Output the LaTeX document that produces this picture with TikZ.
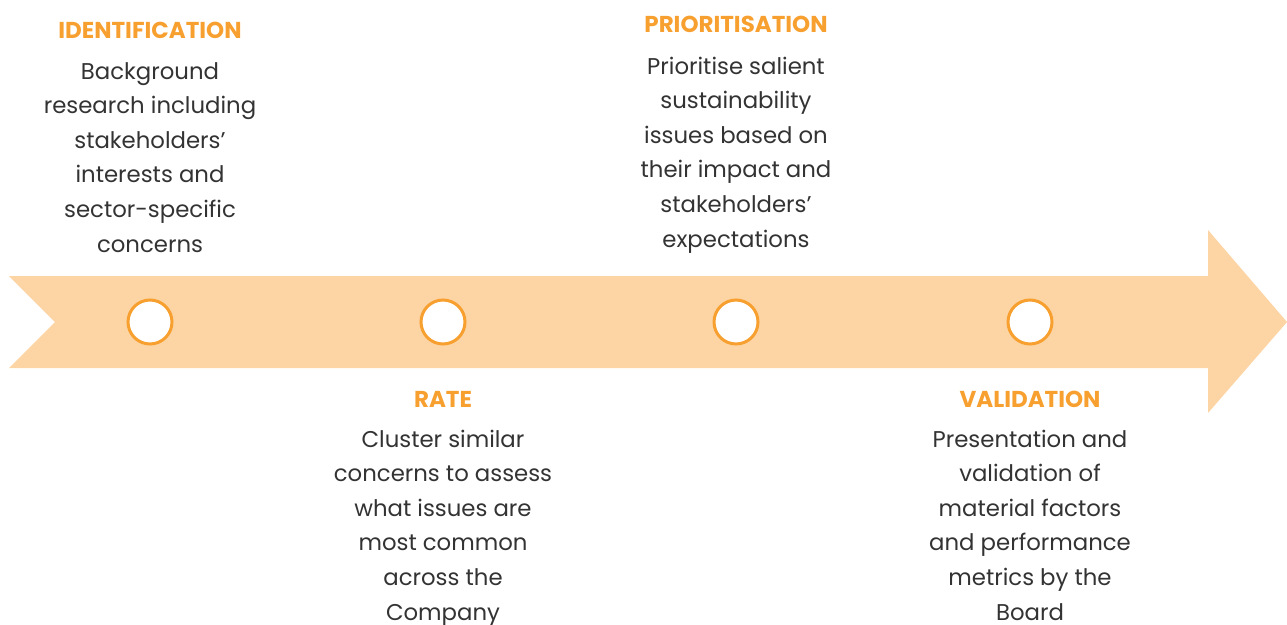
\documentclass[tikz,border=0pt]{standalone}
\usepackage{fontspec}
\setmainfont{Poppins}
\definecolor{band}{HTML}{FDD5A5}
\definecolor{accent}{HTML}{F7A030}
\definecolor{ink}{HTML}{333333}
\begin{document}
\begin{tikzpicture}[x=1pt,y=-1pt,
  title/.style={text=accent, font=\fontsize{23}{25}\selectfont\bfseries, anchor=base},
  body/.style={text=ink, font=\fontsize{22.8}{34.6}\selectfont, align=center, anchor=base},
  dot/.style={circle, draw=accent, line width=3pt, fill=white, minimum size=44pt, inner sep=0pt}]
\useasboundingbox (0,0) rectangle (1287,624);
\fill[band] (9,276) -- (1208,276) -- (1208,230) -- (1287,322) -- (1208,413) -- (1208,368) -- (9,368) -- (55,322) -- cycle;
\node[dot] (c1) at (150,322) {};
\node[dot] (c2) at (443,322) {};
\node[dot] (c3) at (736,322) {};
\node[dot] (c4) at (1030,322) {};
\node[title] (t1) at (150,38) {IDENTIFICATION};
\node[body] (b1) at (150,252) {Background\\research including\\stakeholders\char"0027\\interests and\\sector-specific\\concerns};
\node[title] (t3) at (736,32) {PRIORITISATION};
\node[body] (b3) at (736,247) {Prioritise salient\\sustainability\\issues based on\\their impact and\\stakeholders’\\expectations};
\node[title] (t2) at (443,407) {RATE};
\node[body] (b2) at (443,620) {Cluster similar\\concerns to assess\\what issues are\\most common\\across the\\Company};
\node[title] (t4) at (1030,407) {VALIDATION};
\node[body] (b4) at (1030,620) {Presentation and\\validation of\\material factors\\and performance\\metrics by the\\Board};
\end{tikzpicture}
\end{document}
